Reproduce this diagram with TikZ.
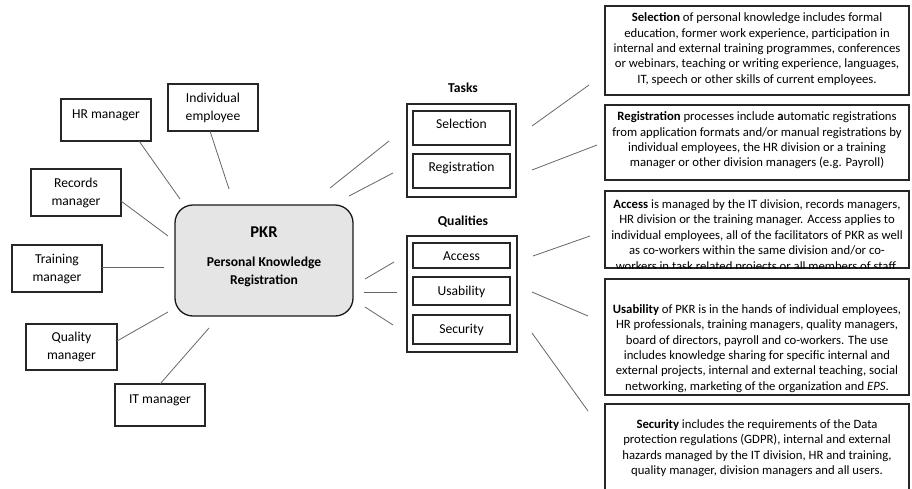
\documentclass[tikz,border=0pt]{standalone}
\usepackage{fontspec}
\setmainfont{Carlito}
\begin{document}
\begin{tikzpicture}[x=1pt,y=-1pt,
  frame/.style={draw=black!85,line width=1.3pt},
  actor/.style={draw=black!85,line width=1.1pt},
  link/.style={draw=black!60,line width=0.8pt},
  lbl/.style={font=\fontsize{13.6}{18}\selectfont,align=center,inner sep=0pt},
  head/.style={font=\bfseries\fontsize{13.6}{16}\selectfont,inner sep=0pt},
  body/.style={font=\fontsize{12.7}{15.4}\selectfont,align=center,inner sep=0pt},
]
\useasboundingbox (0,0) rectangle (912,488);
\begin{scope}
\clip (0,0) rectangle (912,488);

% ---- stakeholders on the left
\node[actor,minimum width=90,minimum height=42] (hr)   at (106,120)   {};
\node[lbl] at ([yshift=5]hr.center) {HR manager};
\node[actor,minimum width=90,minimum height=47] (ind)  at (213,107.5) {};
\node[lbl] at (ind.center) {Individual\\employee};
\node[actor,minimum width=90,minimum height=47] (rec)  at (76,192.5)  {};
\node[lbl] at (rec.center) {Records\\manager};
\node[actor,minimum width=90,minimum height=47] (trn)  at (57,268.5)  {};
\node[lbl] at (trn.center) {Training\\manager};
\node[actor,minimum width=91,minimum height=46] (qual) at (71.5,347)  {};
\node[lbl] at (qual.center) {Quality\\manager};
\node[actor,minimum width=90,minimum height=42] (itm)  at (160,405)   {};
\node[lbl] at ([yshift=5]itm.center) {IT manager};

% ---- central node
\node[draw=black!90,line width=1.3pt,fill=black!10,rounded corners=18,
      minimum width=178,minimum height=111] (pkr) at (264,260.5) {};
\node[font=\bfseries\fontsize{16.5}{18}\selectfont,inner sep=0pt] at (264,232) {PKR};
\node[font=\bfseries\fontsize{13.6}{18.3}\selectfont,align=center,inner sep=0pt]
  at (264,272) {Personal Knowledge\\Registration};

% ---- tasks
\node[head] (tasks) at (463,88) {Tasks};
\node[frame,minimum width=109,minimum height=93] (tbox) at (461.5,150.5) {};
\node[frame,minimum width=97,minimum height=34] (sel) at (461.5,128) {};
\node[lbl] at ([yshift=4]sel.center) {Selection};
\node[frame,minimum width=97,minimum height=34] (reg) at (461.5,171) {};
\node[lbl] at ([yshift=3]reg.center) {Registration};

% ---- qualities
\node[head] (qualities) at (463,222) {Qualities};
\node[frame,minimum width=110,minimum height=116] (qbox) at (462,294) {};
\node[frame,minimum width=97,minimum height=25] (acc) at (461.5,255.5) {};
\node[lbl] at ([yshift=-1]acc.center) {Access};
\node[frame,minimum width=97,minimum height=28] (usa) at (461.5,291) {};
\node[lbl] at ([yshift=-1]usa.center) {Usability};
\node[frame,minimum width=97,minimum height=29] (sec) at (461.5,329.5) {};
\node[lbl] at (sec.center) {Security};

% ---- descriptions on the right
\node[frame,minimum width=304,minimum height=89] (dsel) at (757,50.5) {};
\node[body] at (757,49) {\textbf{Selection} of personal knowledge includes formal\\
education, former work experience, participation in\\
internal and external training programmes, conferences\\
or webinars, teaching or writing experience, languages,\\
IT, speech or other skills of current employees.};

\node[frame,minimum width=304,minimum height=75] (dreg) at (757,142.5) {};
\node[body] at (757,140.5) {\textbf{Registration} processes include \textbf{a}utomatic registrations\\
from application formats and/or manual registrations by\\
individual employees, the HR division or a training\\
manager or other division managers (e.g. Payroll)};

\node[frame,minimum width=304,minimum height=77] (dacc) at (757,229.5) {};
\begin{scope}
\clip (dacc.south west) rectangle (dacc.north east);
\node[body] at (757,236) {\textbf{Access} is managed by the IT division, records managers,\\
HR division or the training manager. Access applies to\\
individual employees, all of the facilitators of PKR as well\\
as co-workers within the same division and/or co-\\
workers in task related projects or all members of staff.};
\end{scope}

\node[frame,minimum width=304,minimum height=116] (dusa) at (757,337) {};
\node[body] at (757,348.5) {\textbf{Usability} of PKR is in the hands of individual employees,\\
HR professionals, training managers, quality managers,\\
board of directors, payroll and co-workers. The use\\
includes knowledge sharing for specific internal and\\
external projects, internal and external teaching, social\\
networking, marketing of the organization and \textit{EPS}.};

\node[frame,minimum width=304,minimum height=100] (dsec) at (757,454) {};
\node[body] at (757,448) {\textbf{Security} includes the requirements of the Data\\
protection regulations (GDPR), internal and external\\
hazards managed by the IT division, HR and training,\\
quality manager, division managers and all users.};

% ---- connector end points (the links stop short of the boxes)
\coordinate (hrA)  at (139,141);   \coordinate (hrB)  at (180,199);
\coordinate (indA) at (210,131);   \coordinate (indB) at (229,189);
\coordinate (recA) at (121,201);   \coordinate (recB) at (168,236);
\coordinate (trnA) at (102,267);   \coordinate (trnB) at (164,267);
\coordinate (quaA) at (117,341);   \coordinate (quaB) at (168,312);
\coordinate (itA)  at (160,384);   \coordinate (itB)  at (209,328);

\coordinate (t1A) at (330,188);    \coordinate (t1B) at (389,141);
\coordinate (t2A) at (349,196);    \coordinate (t2B) at (393,173);
\coordinate (q1A) at (365,279);    \coordinate (q1B) at (394,262);
\coordinate (q2A) at (364,292);    \coordinate (q2B) at (397,292);
\coordinate (q3A) at (365,307);    \coordinate (q3B) at (393,325);

\coordinate (s1A) at (532,126);    \coordinate (s1B) at (589,85);
\coordinate (s2A) at (532,170);    \coordinate (s2B) at (597,145);
\coordinate (a1A) at (533,256);    \coordinate (a1B) at (590,236);
\coordinate (u1A) at (532,292);    \coordinate (u1B) at (588,316);
\coordinate (c1A) at (532,333);    \coordinate (c1B) at (588,411);

\foreach \a/\b in {hrA/hrB,indA/indB,recA/recB,trnA/trnB,quaA/quaB,itA/itB,
                   t1A/t1B,t2A/t2B,q1A/q1B,q2A/q2B,q3A/q3B,
                   s1A/s1B,s2A/s2B,a1A/a1B,u1A/u1B,c1A/c1B}
  \draw[link] (\a) -- (\b);
\end{scope}
\end{tikzpicture}
\end{document}
